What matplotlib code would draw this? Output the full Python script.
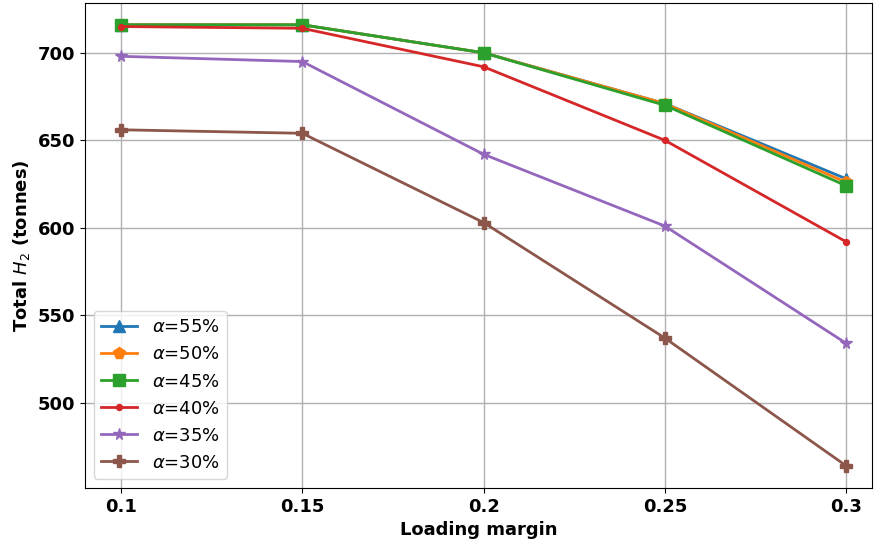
import matplotlib.pyplot as plt

margins = [0.1, 0.15, 0.2, 0.25, 0.3]
tick_labels = ["0.1", "0.15", "0.2", "0.25", "0.3"]

alpha_labels = ["55%", "50%", "45%", "40%", "35%", "30%"]
h2_55 = [716, 716, 700, 671, 628]
h2_50 = [716, 716, 700, 671, 626]
h2_45 = [716, 716, 700, 670, 624]
h2_40 = [715, 714, 692, 650, 592]
h2_35 = [698, 695, 642, 601, 534]
h2_30 = [656, 654, 603, 537, 464]

series = [h2_55, h2_50, h2_45, h2_40, h2_35, h2_30]
markers = ["^", "p", "s", ".", "*", "P"]

fig, ax = plt.subplots(figsize=(8.74, 5.5), dpi=100)
fig.subplots_adjust(left=0.097, right=0.998, top=0.995, bottom=0.113)

for vals, m, lab in zip(series, markers, alpha_labels):
    ax.plot(margins, vals, marker=m, markersize=8.5, linewidth=2,
            label=r"$\alpha$=" + lab)

ax.set_xticks(margins)
ax.set_xticklabels(tick_labels)
ax.set_yticks([500, 550, 600, 650, 700])
ax.set_xlim(0.09, 0.3072)
ax.grid(True, color="#b0b0b0", linewidth=1)

for lbl in ax.get_xticklabels() + ax.get_yticklabels():
    lbl.set_fontsize(13)
    lbl.set_fontweight("bold")

ax.set_xlabel("Loading margin", fontsize=13, fontweight="bold")
ax.set_ylabel(r"Total $H_2$ (tonnes)", fontsize=13, fontweight="bold")
ax.legend(loc="lower left", fontsize=13)

fig.savefig("out.png")
